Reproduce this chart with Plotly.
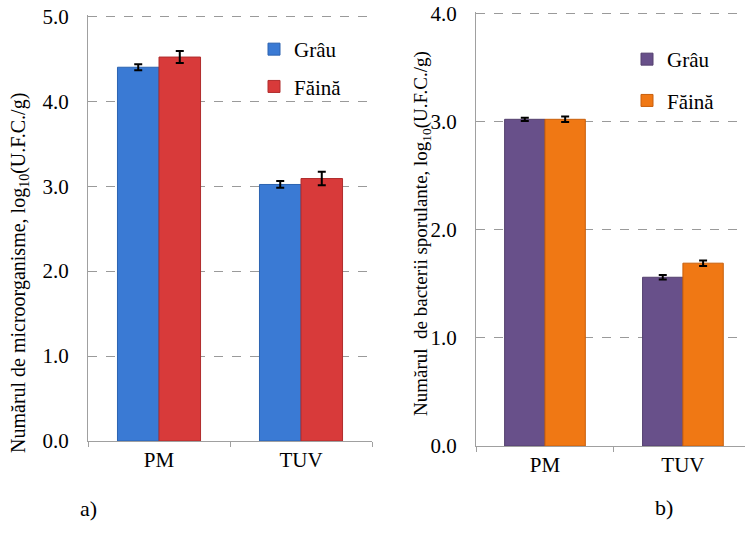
import plotly.graph_objects as go

categories = ["PM", "TUV"]

# Panel a) total microorganisms, log10(UFC/g)
a_grau = [4.40, 3.02]
a_grau_err = [0.035, 0.04]
a_faina = [4.52, 3.09]
a_faina_err = [0.07, 0.08]

# Panel b) spore-forming bacteria, log10(UFC/g)
b_grau = [3.02, 1.56]
b_grau_err = [0.015, 0.02]
b_faina = [3.02, 1.69]
b_faina_err = [0.025, 0.025]

a_ticks = [0, 1, 2, 3, 4, 5]
b_ticks = [0, 1, 2, 3, 4]

W, H = 745, 555
FONT = "Liberation Serif, DejaVu Serif, Times New Roman, serif"

def err(v):
    return dict(type="data", array=v, visible=True, color="black", thickness=2, width=4)

fig = go.Figure()
fig.add_trace(go.Bar(x=categories, y=a_grau, name="Grâu", error_y=err(a_grau_err),
                     marker=dict(color="#3a7ad4", line=dict(color="#2c63b0", width=1)),
                     xaxis="x", yaxis="y", legend="legend", legendgroup="ag"))
fig.add_trace(go.Bar(x=categories, y=a_faina, name="Făină", error_y=err(a_faina_err),
                     marker=dict(color="#d83a3a", line=dict(color="#b02c2c", width=1)),
                     xaxis="x", yaxis="y", legend="legend", legendgroup="af"))
fig.add_trace(go.Bar(x=categories, y=b_grau, name="Grâu", error_y=err(b_grau_err),
                     marker=dict(color="#68508a", line=dict(color="#54406f", width=1)),
                     xaxis="x2", yaxis="y2", legend="legend2", legendgroup="bg"))
fig.add_trace(go.Bar(x=categories, y=b_faina, name="Făină", error_y=err(b_faina_err),
                     marker=dict(color="#f07814", line=dict(color="#c85f0c", width=1)),
                     xaxis="x2", yaxis="y2", legend="legend2", legendgroup="bf"))

axis_common = dict(showline=True, linecolor="#a0a0a0", linewidth=1.3, automargin=False)
tickfont = dict(family=FONT, size=21, color="black")

def yax(domain, rng, ticks, anchor):
    return dict(domain=domain, range=rng, tickvals=ticks, tickformat=".1f",
                showgrid=True, gridcolor="#9a9a9a", griddash="dash", gridwidth=1,
                zeroline=False, ticks="", ticklabelstandoff=14, tickfont=tickfont,
                anchor=anchor, **axis_common)

def xax(domain, rng, anchor):
    return dict(domain=domain, range=rng, type="category", anchor=anchor,
                ticks="outside", tickson="boundaries", ticklen=5, tickcolor="#a0a0a0",
                showgrid=False, zeroline=False, tickfont=tickfont, **axis_common)

fig.update_layout(
    template="none",
    width=W, height=H,
    margin=dict(l=0, r=0, t=0, b=0, pad=0, autoexpand=False),
    paper_bgcolor="white", plot_bgcolor="white",
    barmode="group", bargap=0.415, bargroupgap=0,
    font=dict(family=FONT, color="black"),
    xaxis=xax([88 / W, 372 / W], [-0.5, 1.5], "y"),
    yaxis=yax([(H - 441) / H, (H - 15) / H], [0, 5.015], a_ticks, "x"),
    xaxis2=xax([476 / W, 1.0], [-0.5, 1.45], "y2"),
    yaxis2=yax([(H - 446) / H, (H - 12) / H], [0, 4.012], b_ticks, "x2"),
    legend=dict(x=254 / W, y=(H - 29) / H, xanchor="left", yanchor="top",
                font=dict(family=FONT, size=21), bgcolor="rgba(0,0,0,0)",
                tracegroupgap=7, itemwidth=30),
    legend2=dict(x=627 / W, y=(H - 39) / H, xanchor="left", yanchor="top",
                 font=dict(family=FONT, size=21), bgcolor="rgba(0,0,0,0)",
                 tracegroupgap=11, itemwidth=30),
    showlegend=True,
)

ann = dict(xref="paper", yref="paper", xanchor="center", yanchor="middle", showarrow=False)
fig.add_annotation(text="Numărul de microorganisme, log<sub>10</sub>(U.F.C./g)",
                   x=19 / W, y=(H - 273) / H, textangle=-90,
                   font=dict(family=FONT, size=20), **ann)
fig.add_annotation(text="Numărul  de bacterii sporulante, log<sub>10</sub>(U.F.C./g)",
                   x=422 / W, y=(H - 234) / H, textangle=-90,
                   font=dict(family=FONT, size=19), **ann)
fig.add_annotation(text="a)", x=88 / W, y=(H - 508) / H,
                   font=dict(family=FONT, size=22), **ann)
fig.add_annotation(text="b)", x=664 / W, y=(H - 507) / H,
                   font=dict(family=FONT, size=22), **ann)

fig.write_html("out.html")
